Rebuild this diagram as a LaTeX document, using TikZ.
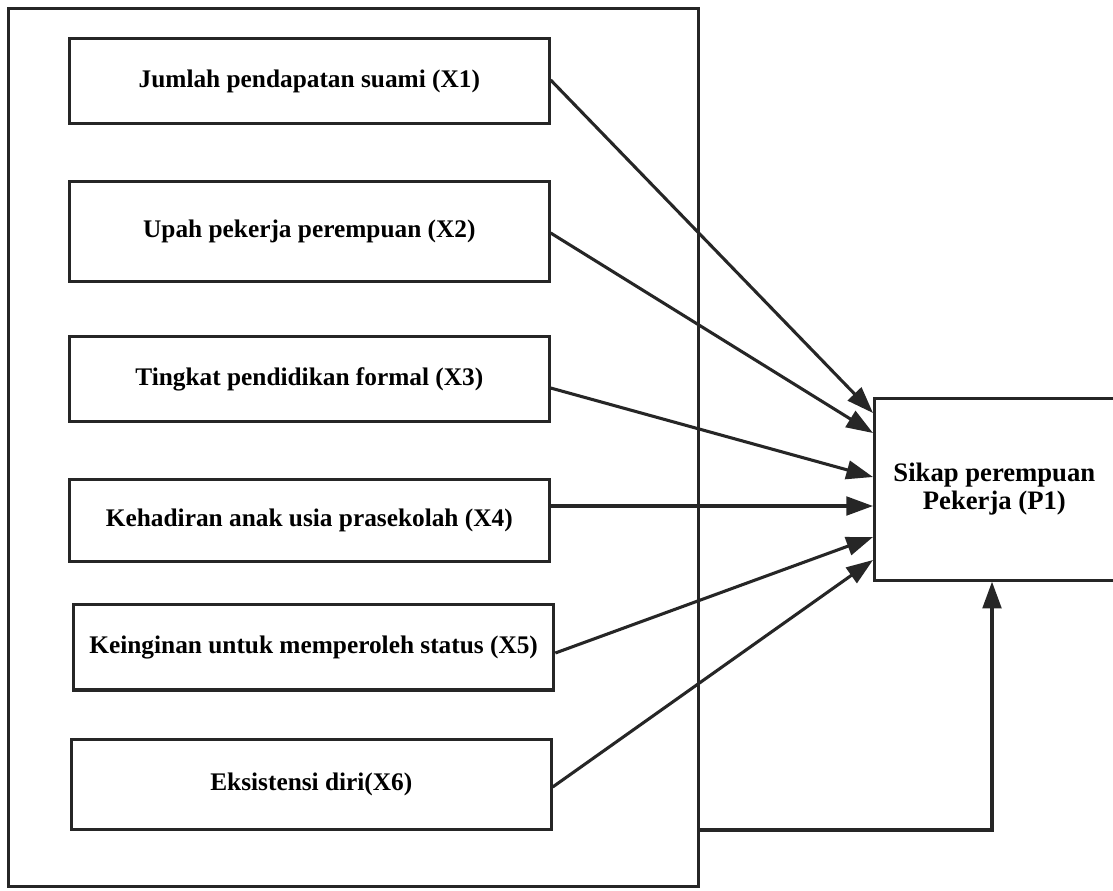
\documentclass[tikz,border=0pt]{standalone}
\usepackage{fontspec}
\setmainfont{Liberation Serif}
\usetikzlibrary{arrows.meta}
\begin{document}
\begin{tikzpicture}[x=0.75pt,y=-0.75pt,
  line width=2pt, draw=black!85,
  varbox/.style={draw=black!85, line width=2pt, minimum width=360pt, minimum height=64pt,
    inner sep=0pt, font=\bfseries\fontsize{19}{18}\selectfont, anchor=north west},
  arr/.style={-{Triangle[length=20pt,width=14pt]}, line width=2.3pt, draw=black!85}]
\useasboundingbox (0,0) rectangle (1113,890);
\fill[white] (0,0) rectangle (1113,890);
\node[draw=black!85, line width=2pt, minimum width=517.5pt, minimum height=658.5pt, anchor=north west, inner sep=0pt] (outer) at (7,7) {};
\node[varbox] (x1) at (68,37) {Jumlah pendapatan suami (X1)};
\node[varbox, minimum height=75pt] (x2) at (68,180) {Upah pekerja perempuan (X2)};
\node[varbox] (x3) at (68,335) {Tingkat pendidikan formal (X3)};
\node[varbox, minimum height=61.5pt] (x4) at (68,478) {Kehadiran anak usia prasekolah (X4)};
\node[varbox, line width=2.5pt] (x5) at (72,603) {Keinginan untuk memperoleh status (X5)};
\node[varbox, minimum height=67.5pt] (x6) at (70,738) {Eksistensi diri(X6)};
\node[draw=black!85, line width=2pt, minimum width=180pt, minimum height=136.5pt, anchor=north west, inner sep=0pt,
  align=center, font=\bfseries\fontsize{20}{21}\selectfont] (p1) at (873,397) {Sikap perempuan\\Pekerja (P1)};
\coordinate (t1) at (873,413);
\coordinate (t2) at (873,433);
\coordinate (t3) at (873,477);
\coordinate (t4) at (873,506);
\coordinate (t5) at (873,537);
\coordinate (t6) at (873,560);
\draw[arr] (x1.east |- 0,80) -- (t1);
\draw[arr] (x2.east |- 0,233) -- (t2);
\draw[arr] (x3.east |- 0,388) -- (t3);
\draw[arr] (x4.east |- 0,506) -- (t4);
\draw[arr] (x5.east |- 0,653) -- (t5);
\draw[arr] (x6.east |- 0,787) -- (t6);
\coordinate (c1) at (697,830);
\coordinate (c2) at (992,830);
\draw[arr] (c1) -- (c2) -- (c2 |- p1.south);
\end{tikzpicture}
\end{document}
